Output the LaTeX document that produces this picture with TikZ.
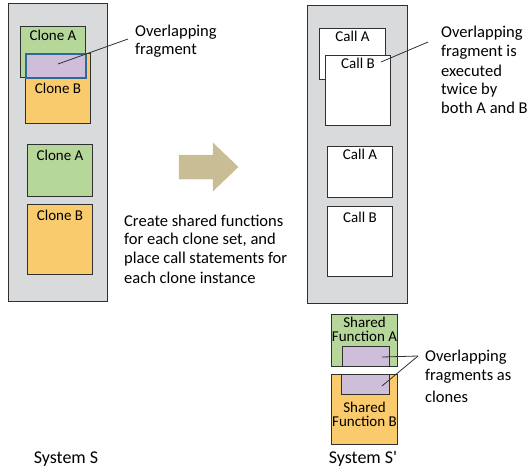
\documentclass[tikz,border=0pt]{standalone}
\usepackage{fontspec}
\setmainfont{Carlito}
\definecolor{sysgray}{HTML}{D9DADC}
\definecolor{clonegreen}{HTML}{B5D79A}
\definecolor{cloneorange}{HTML}{FACB6C}
\definecolor{fraglilac}{HTML}{CEBEDA}
\definecolor{fragblue}{HTML}{2E6A97}
\definecolor{arrowtan}{HTML}{C8BD95}
\definecolor{edge}{HTML}{303030}
\begin{document}
\begin{tikzpicture}[x=1pt,y=-1pt,
  txt/.style={font=\fontsize{16.5}{19}\selectfont, inner sep=0pt, align=left},
  syslbl/.style={font=\fontsize{18}{20}\selectfont, inner sep=0pt},
  boxlbl/.style={font=\fontsize{15}{14}\selectfont, inner sep=0pt, anchor=north, align=center},
  sys/.style={draw=edge, line width=1.4pt, fill=sysgray, anchor=north west, inner sep=0pt},
  blk/.style={draw=edge, line width=1pt, anchor=north west, inner sep=0pt},
  clonea/.style={blk, fill=clonegreen},
  cloneb/.style={blk, fill=cloneorange},
  callbox/.style={blk, fill=white},
  frag/.style={blk, fill=fraglilac},
  leader/.style={draw=edge, line width=0.8pt},
]
\useasboundingbox (0,0) rectangle (528,472);

% ---------- System S ----------
\node[sys, minimum width=99pt, minimum height=298pt] (sysS) at (8,3) {};
\node[clonea, minimum width=65pt, minimum height=51pt] (ca1) at (20,26) {};
\node[boxlbl] (ca1l) at ([yshift=-4pt]ca1.north) {Clone A};
\node[cloneb, minimum width=65pt, minimum height=70pt] (cb1) at (25,53) {};
\node[boxlbl] (cb1l) at ([yshift=-30pt]cb1.north) {Clone B};
\node[frag, draw=fragblue, line width=1.6pt, minimum width=60pt, minimum height=24pt] (ov1) at (25,53) {};
\node[clonea, minimum width=65pt, minimum height=52pt] (ca2) at (27,144) {};
\node[boxlbl] (ca2l) at ([yshift=-6pt]ca2.north) {Clone A};
\node[cloneb, minimum width=65pt, minimum height=70pt] (cb2) at (27,204) {};
\node[boxlbl] (cb2l) at ([yshift=-6pt]cb2.north) {Clone B};

\coordinate (ov1p) at (58,64);
\coordinate (ov1t) at (128,39);
\draw[leader] (ov1p) -- (ov1t);
\node[txt, anchor=west] (ovtxt1) at (135,32) {Overlapping};
\node[txt, anchor=west] (ovtxt2) at (135,50) {fragment};

\node[syslbl] (labS) at (66,459) {System S};

% ---------- transformation arrow ----------
\filldraw[arrowtan] (179,155) -- (213,155) -- (213,143) -- (238,167)
  -- (213,191) -- (213,179) -- (179,179) -- cycle;
\node[txt, anchor=west] (stepA) at (124,221) {Create shared functions};
\node[txt, anchor=west] (stepB) at (124,240) {for each clone set, and};
\node[txt, anchor=west] (stepC) at (124,259) {place call statements for};
\node[txt, anchor=west] (stepD) at (124,278) {each clone instance};

% ---------- System S' ----------
\node[sys, minimum width=100pt, minimum height=298pt] (sysT) at (307,5) {};
\node[callbox, minimum width=66pt, minimum height=51pt] (k1) at (319,28) {};
\node[boxlbl] (k1l) at ([yshift=-3pt]k1.north) {Call A};
\node[callbox, minimum width=65pt, minimum height=70pt] (k2) at (325,55) {};
\node[boxlbl] (k2l) at ([yshift=-3pt]k2.north) {Call B};
\node[callbox, minimum width=65pt, minimum height=51pt] (k3) at (327,146) {};
\node[boxlbl] (k3l) at ([yshift=-3pt]k3.north) {Call A};
\node[callbox, minimum width=65pt, minimum height=70pt] (k4) at (327,206) {};
\node[boxlbl] (k4l) at ([yshift=-6pt]k4.north) {Call B};

\coordinate (k2p) at (381,62);
\coordinate (k2t) at (428,42);
\draw[leader] (k2p) -- (k2t);
\node[txt, anchor=west] (tw1) at (441,33) {Overlapping};
\node[txt, anchor=west] (tw2) at (441,52) {fragment is};
\node[txt, anchor=west] (tw3) at (441,71) {executed};
\node[txt, anchor=west] (tw4) at (441,90) {twice by};
\node[txt, anchor=west] (tw5) at (441,108) {both A and B};

% shared functions
\node[clonea, minimum width=66pt, minimum height=52pt] (fa) at (331,314) {};
\node[boxlbl] (fal) at ([yshift=-3pt]fa.north) {Shared\\Function A};
\node[cloneb, minimum width=66pt, minimum height=70pt] (fb) at (331,374) {};
\node[boxlbl] (fbl) at ([yshift=-28pt]fb.north) {Shared\\Function B};
\node[frag, minimum width=47pt, minimum height=20pt] (fra) at (342,346) {};
\node[frag, minimum width=48pt, minimum height=20pt] (frb) at (341,374) {};

\coordinate (frap) at (382,357);
\coordinate (frbp) at (382,386);
\coordinate (frt) at (418,356);
\draw[leader] (frap) -- (frt);
\draw[leader] (frbp) -- (frt);
\node[txt, anchor=west] (fc1) at (425,357) {Overlapping};
\node[txt, anchor=west] (fc2) at (425,376) {fragments as};
\node[txt, anchor=west] (fc3) at (425,397) {clones};

\node[syslbl] (labT) at (363,459) {System S\textquotesingle};
\end{tikzpicture}
\end{document}
